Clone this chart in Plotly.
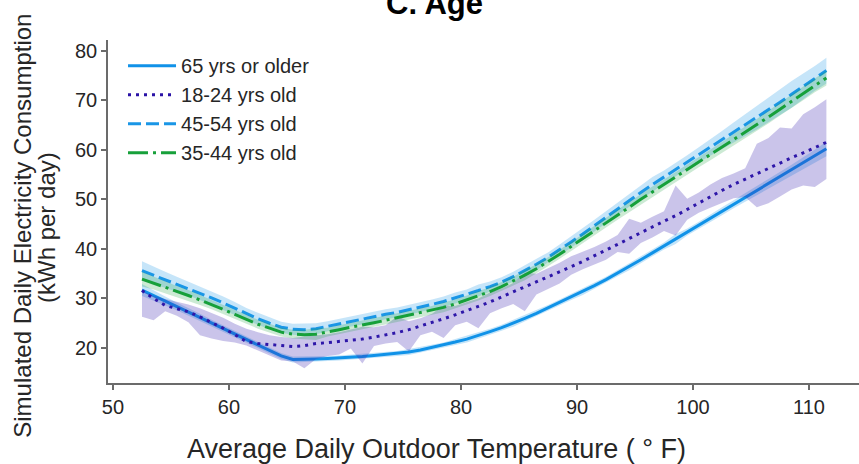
import plotly.graph_objects as go

# Outdoor temperature bins (deg F)
temps = [52.5 + i for i in range(60)]

# Mean simulated daily consumption (kWh/day) per age group
older_65 = [31.7, 30.6, 29.5, 28.4, 27.3, 26.2, 25.0, 23.9, 22.8, 21.7,
            20.6, 19.5, 18.4, 17.7, 17.7, 17.8, 17.9, 18.0, 18.2, 18.3,
            18.5, 18.7, 18.9, 19.2, 19.6, 20.1, 20.6, 21.2, 21.8, 22.5,
            23.3, 24.1, 25.0, 26.0, 27.0, 28.1, 29.2, 30.3, 31.4, 32.6,
            33.8, 35.1, 36.4, 37.8, 39.2, 40.6, 42.0, 43.4, 44.8, 46.2,
            47.6, 49.0, 50.4, 51.8, 53.1, 54.5, 55.9, 57.3, 58.7, 60.2]
age_18_24 = [31.6, 30.0, 28.6, 28.0, 27.3, 26.3, 25.2, 24.0, 22.7, 21.3,
             20.9, 20.7, 20.5, 20.3, 20.5, 20.9, 21.1, 21.3, 21.6, 21.8,
             22.2, 22.6, 23.1, 23.7, 24.4, 25.1, 25.9, 26.7, 27.5, 28.4,
             29.3, 30.3, 31.3, 32.3, 33.3, 34.3, 35.3, 36.4, 37.5, 38.6,
             39.7, 40.9, 42.1, 43.3, 44.4, 45.6, 46.7, 48.0, 49.3, 50.6,
             51.8, 53.0, 54.1, 55.2, 56.3, 57.4, 58.4, 59.4, 60.4, 61.5]
age_45_54 = [35.6, 34.7, 33.8, 32.9, 32.0, 31.1, 30.1, 29.1, 28.0, 26.9,
             25.9, 25.0, 24.2, 23.8, 23.7, 23.9, 24.4, 24.9, 25.4, 25.8,
             26.3, 26.8, 27.2, 27.7, 28.2, 28.8, 29.4, 30.1, 30.8, 31.6,
             32.4, 33.3, 34.4, 35.6, 36.9, 38.3, 39.8, 41.4, 43.0, 44.7,
             46.4, 48.1, 49.8, 51.4, 53.0, 54.5, 56.0, 57.5, 59.0, 60.5,
             62.0, 63.5, 65.0, 66.5, 68.0, 69.6, 71.2, 72.8, 74.4, 76.0]
age_35_44 = [33.9, 33.1, 32.2, 31.4, 30.6, 29.7, 28.8, 27.8, 26.8, 25.8,
             24.8, 24.0, 23.2, 22.8, 22.7, 22.8, 23.2, 23.7, 24.2, 24.6,
             25.1, 25.6, 26.1, 26.6, 27.1, 27.6, 28.2, 28.9, 29.7, 30.5,
             31.4, 32.4, 33.5, 34.7, 36.0, 37.4, 38.9, 40.5, 42.1, 43.7,
             45.3, 46.9, 48.5, 50.0, 51.5, 53.0, 54.5, 56.0, 57.5, 59.0,
             60.5, 62.0, 63.5, 65.0, 66.6, 68.2, 69.8, 71.4, 73.0, 74.5]

# Confidence-interval half widths (kWh/day)
ci_65 = [1.2, 1.0, 0.9, 0.8, 0.8, 0.7, 0.7, 0.7, 0.6, 0.6,
         0.6, 0.6, 0.6, 0.6, 0.6, 0.5, 0.5, 0.5, 0.5, 0.5,
         0.5, 0.5, 0.5, 0.6, 0.6, 0.5, 0.5, 0.6, 0.7, 0.6,
         0.6, 0.6, 0.7, 0.6, 0.6, 0.6, 0.6, 0.6, 0.7, 0.6,
         0.6, 0.6, 0.7, 0.7, 0.7, 0.7, 1.0, 0.7, 0.7, 0.8,
         0.8, 0.8, 0.9, 0.9, 1.0, 1.0, 1.1, 1.2, 1.3, 1.5]
ci_45 = [1.9, 1.7, 1.6, 1.5, 1.4, 1.4, 1.3, 1.3, 1.3, 1.2,
         1.2, 1.2, 1.1, 1.1, 1.2, 1.1, 1.0, 1.0, 1.0, 1.0,
         1.1, 1.0, 1.0, 1.0, 1.0, 1.0, 1.0, 1.1, 1.0, 1.2,
         1.0, 1.0, 1.0, 1.1, 1.2, 1.0, 1.1, 1.1, 1.2, 1.2,
         1.2, 1.2, 1.3, 1.3, 1.5, 1.3, 1.3, 1.4, 1.5, 1.6,
         1.8, 2.0, 2.2, 2.4, 2.5, 2.6, 2.7, 2.6, 2.5, 2.6]
ci_35 = [1.5, 1.3, 1.2, 1.1, 1.1, 1.0, 1.0, 1.0, 0.9, 0.9,
         0.9, 0.9, 0.9, 0.9, 1.0, 1.2, 0.9, 0.9, 0.9, 0.9,
         0.9, 0.9, 0.9, 0.9, 0.9, 0.9, 1.0, 0.9, 0.9, 0.9,
         0.9, 0.9, 0.9, 1.0, 0.9, 0.9, 0.9, 0.9, 0.9, 1.0,
         1.0, 1.0, 1.0, 1.0, 1.1, 1.0, 1.0, 1.0, 1.0, 1.1,
         1.1, 1.2, 1.2, 1.2, 1.3, 1.3, 1.3, 1.4, 1.4, 1.5]

# 18-24 group interval bounds (asymmetric)
lo_18_24 = [26.3, 25.6, 27.4, 26.5, 25.2, 22.6, 21.9, 21.4, 21.1, 20.5,
            19.5, 18.5, 17.5, 17.3, 15.9, 17.8, 18.4, 18.7, 19.9, 16.9,
            20.4, 20.9, 21.2, 19.3, 22.6, 23.3, 22.0, 24.6, 25.3, 24.0,
            27.0, 28.0, 28.9, 27.4, 30.8, 31.9, 33.0, 34.8, 35.9, 36.9,
            37.8, 39.4, 39.0, 41.2, 42.3, 43.6, 42.7, 45.9, 47.3, 48.3,
            49.3, 50.2, 50.5, 48.4, 49.2, 50.6, 52.0, 52.8, 52.5, 54.1]
hi_18_24 = [31.5, 30.6, 29.9, 29.3, 28.8, 28.0, 27.0, 26.1, 24.9, 23.9,
            23.2, 22.6, 22.2, 22.0, 22.3, 22.5, 22.8, 23.2, 23.7, 24.3,
            24.2, 24.6, 26.4, 25.4, 26.0, 26.9, 28.6, 28.5, 29.3, 30.0,
            31.2, 32.0, 33.1, 35.2, 35.0, 36.1, 37.2, 38.5, 39.4, 40.4,
            41.5, 42.8, 46.1, 45.3, 46.5, 47.6, 52.8, 50.1, 51.4, 53.0,
            54.3, 55.2, 56.3, 61.2, 62.4, 64.5, 64.3, 67.2, 68.6, 70.2]

x_ticks = [50, 60, 70, 80, 90, 100, 110]
y_ticks = [20, 30, 40, 50, 60, 70, 80]

FONT = "Liberation Sans, Arial, Helvetica, sans-serif"
TEXT = "#262626"
AXIS = "#6b6b6b"


def band(lower, upper, fill):
    return go.Scatter(
        x=temps + temps[::-1], y=upper + lower[::-1],
        fill="toself", fillcolor=fill, mode="lines",
        line=dict(width=0), showlegend=False, hoverinfo="skip")


def sym(mean, half):
    return ([m - h for m, h in zip(mean, half)],
            [m + h for m, h in zip(mean, half)])


series = [
    ("65 yrs or older", older_65, sym(older_65, ci_65), "#1192e8",
     "rgba(17,146,232,0.25)", "solid"),
    ("18-24 yrs old", age_18_24, (lo_18_24, hi_18_24), "#2a12a6",
     "rgba(58,36,176,0.27)", "3px,5px"),
    ("45-54 yrs old", age_45_54, sym(age_45_54, ci_45), "#1a96e6",
     "rgba(26,150,230,0.25)", "13px,5px"),
    ("35-44 yrs old", age_35_44, sym(age_35_44, ci_35), "#17a03a",
     "rgba(23,160,58,0.22)", "20px,5px,3px,5px"),
]

fig = go.Figure()
for name, mean, (lo, hi), color, fill, dash in series:
    fig.add_trace(go.Scatter(
        x=temps, y=mean, mode="lines", name=name,
        line=dict(color=color, width=3, dash=dash)))
    fig.add_trace(band(lo, hi, fill))

axis_common = dict(
    showline=True, linecolor=AXIS, linewidth=1.5, mirror=False,
    ticks="outside", ticklen=5, tickwidth=1.5, tickcolor=AXIS,
    showgrid=False, zeroline=False,
    tickfont=dict(family=FONT, size=20, color=TEXT),
)

fig.update_layout(
    width=859, height=464,
    margin=dict(l=108, r=0, t=40, b=81, pad=0),
    paper_bgcolor="white", plot_bgcolor="white",
    font=dict(family=FONT, color=TEXT),
    xaxis=dict(range=[49.57, 114.31], tickvals=x_ticks, **axis_common),
    yaxis=dict(range=[12.94, 82.16], tickvals=y_ticks, **axis_common),
    legend=dict(
        x=0.02, y=0.982, xanchor="left", yanchor="top",
        bgcolor="rgba(0,0,0,0)", font=dict(family=FONT, size=20, color=TEXT),
        itemwidth=48, tracegroupgap=0),
    showlegend=True,
    annotations=[
        dict(text="C. Age", xref="paper", yref="paper", x=0.435, y=1.105,
             xanchor="center", yanchor="middle", showarrow=False,
             font=dict(family=FONT, size=31, color="black", weight="bold")),
        dict(text="Average Daily Outdoor Temperature ( \u00b0 F)",
             xref="paper", yref="paper", x=0.438, y=-0.1924,
             xanchor="center", yanchor="middle", showarrow=False,
             font=dict(family=FONT, size=27, color=TEXT)),
        dict(text="Simulated Daily Electricity Consumption",
             xref="paper", yref="paper", x=-0.1149, y=0.4577,
             xanchor="center", yanchor="middle", textangle=-90,
             showarrow=False, font=dict(family=FONT, size=24, color=TEXT)),
        dict(text="(kWh per day)",
             xref="paper", yref="paper", x=-0.0812, y=0.452,
             xanchor="center", yanchor="middle", textangle=-90,
             showarrow=False, font=dict(family=FONT, size=24, color=TEXT)),
    ],
)

fig.write_html("out.html")
